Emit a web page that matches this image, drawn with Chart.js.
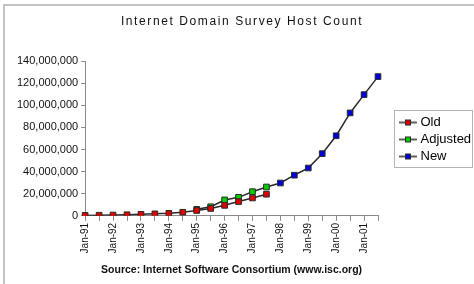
<!DOCTYPE html>
<html>
<head>
<meta charset="utf-8">
<script src="https://cdn.jsdelivr.net/npm/chart.js@4/dist/chart.umd.min.js"></script>
<style>
  html, body { margin: 0; padding: 0; background: #fff; }
  #wrap { width: 474px; height: 284px; position: relative; }
</style>
</head>
<body>
<div id="wrap"><canvas id="c" width="474" height="284"></canvas></div>
<script>
const chartTitle = 'Internet Domain Survey Host Count';
const sourceText = 'Source: Internet Software Consortium (www.isc.org)';
const periods = ['Jan-91','Jul-91','Jan-92','Jul-92','Jan-93','Jul-93','Jan-94','Jul-94',
  'Jan-95','Jul-95','Jan-96','Jul-96','Jan-97','Jul-97','Jan-98','Jul-98',
  'Jan-99','Jul-99','Jan-00','Jul-00','Jan-01','Jul-01'];
const oldHosts = [376000, 535000, 727000, 992000, 1313000, 1776000, 2217000, 3212000,
  4852000, 6642000, 9472000, 12881000, 16146000, 19540000,
  null, null, null, null, null, null, null, null];
const adjustedHosts = [null, null, null, null, null, null, null, null,
  5846000, 8200000, 14352000, 16729000, 21819000, 26053000,
  null, null, null, null, null, null, null, null];
const newHosts = [null, null, null, null, null, null, null, null,
  null, null, null, null, null, 26053000,
  29670000, 36739000, 43230000, 56218000, 72398000, 93047000, 109574000, 125888000];
const yTicks = [0, 20000000, 40000000, 60000000, 80000000, 100000000, 120000000, 140000000];

const FONT = '"Liberation Sans", Arial, sans-serif';
const LINE = '#2a2a2a';
const LEGEND_W = 96;   // width reserved for the legend column
const LEGEND_SHIFT = 20;
const LEGEND_SHIFT_Y = -29;

function legendIcon(fill) {
  const cv = document.createElement('canvas');
  cv.width = 18; cv.height = 8;
  const g = cv.getContext('2d');
  g.strokeStyle = LINE; g.lineWidth = 1.5;
  g.beginPath(); g.moveTo(0, 4); g.lineTo(18, 4); g.stroke();
  g.fillStyle = fill; g.fillRect(6, 1, 6, 6);
  g.lineWidth = 1; g.strokeStyle = LINE; g.strokeRect(6.5, 1.5, 5, 5);
  return cv;
}

const colors = { old: '#e00000', adj: '#00d000', neu: '#0000d8' };

function ds(label, data, fill, hideIdx) {
  return {
    label, data,
    borderColor: LINE, borderWidth: 1.5,
    pointStyle: 'rect',
    pointRadius: (ctx) => (hideIdx !== undefined && ctx.dataIndex === hideIdx) ? 0 : 4,
    pointBackgroundColor: fill, pointBorderColor: LINE, pointBorderWidth: 1,
    tension: 0, spanGaps: false,
    legendIcon: legendIcon(fill)
  };
}

const decor = {
  id: 'decor',
  afterInit(chart) {
    const lg = chart.legend;
    const origFit = lg.fit.bind(lg);
    lg.fit = function () { origFit(); this.width = LEGEND_W; };
    const origDraw = lg.draw.bind(lg);
    lg.draw = function () {
      const ctx = chart.ctx;
      ctx.save(); ctx.translate(LEGEND_SHIFT, LEGEND_SHIFT_Y); origDraw(); ctx.restore();
    };
  },
  beforeDraw(chart) {
    const ctx = chart.ctx;
    ctx.save();
    ctx.fillStyle = '#fff';
    ctx.fillRect(0, 0, chart.width, chart.height);
    ctx.strokeStyle = '#c4c4c4';
    ctx.lineWidth = 2;
    ctx.beginPath();
    ctx.moveTo(4, chart.height); ctx.lineTo(4, 5); ctx.lineTo(chart.width, 5);
    ctx.stroke();
    ctx.restore();
  },
  afterDraw(chart) {
    const ctx = chart.ctx;
    ctx.save();
    ctx.font = '12px ' + FONT;
    ctx.fillStyle = '#111';
    ctx.letterSpacing = '1.6px';
    ctx.textAlign = 'center';
    ctx.textBaseline = 'middle';
    ctx.fillText(chartTitle, 242, 22);
    ctx.restore();
    const hb = chart.legend.legendHitBoxes;
    if (hb && hb.length) {
      const first = hb[0], last = hb[hb.length - 1];
      const x0 = Math.round(first.left + LEGEND_SHIFT - 8) + 0.5;
      const y0 = Math.round(first.top + LEGEND_SHIFT_Y - 6) + 0.5;
      const x1 = 472.5;
      const y1 = Math.round(last.top + last.height + LEGEND_SHIFT_Y + 4) + 0.5;
      ctx.save();
      ctx.strokeStyle = '#b4b4b4';
      ctx.lineWidth = 1;
      ctx.strokeRect(x0, y0, x1 - x0, y1 - y0);
      ctx.restore();
    }
  }
};

new Chart(document.getElementById('c'), {
  type: 'line',
  data: {
    labels: periods,
    datasets: [
      ds('Old', oldHosts, colors.old),
      ds('Adjusted', adjustedHosts, colors.adj),
      ds('New', newHosts, colors.neu, 13)
    ]
  },
  options: {
    responsive: false,
    animation: false,
    devicePixelRatio: 1,
    layout: { padding: { top: 61, left: 14, right: 0, bottom: 8 } },
    plugins: {
      title: { display: false },
      tooltip: { enabled: false },
      legend: {
        position: 'right',
        align: 'center',
        labels: {
          font: { family: FONT, size: 13 },
          color: '#111',
          usePointStyle: true,
          pointStyleWidth: 12,
          boxHeight: 8,
          padding: 4,
          generateLabels(chart) {
            return chart.data.datasets.map((d, i) => ({
              text: d.label,
              pointStyle: d.legendIcon,
              fillStyle: '#fff', strokeStyle: '#fff', lineWidth: 0,
              hidden: false, datasetIndex: i
            }));
          }
        }
      }
    },
    scales: {
      x: {
        type: 'category',
        offset: false,
        grid: { drawOnChartArea: false, tickLength: 5, color: '#8a8a8a' },
        border: { color: '#8a8a8a', width: 1 },
        ticks: {
          autoSkip: false, maxRotation: 90, minRotation: 90, padding: 2,
          font: { family: FONT, size: 10 }, color: '#111',
          callback: (v, i) => periods[i].startsWith('Jan') ? periods[i] : ''
        },
        title: {
          display: true, text: sourceText,
          font: { family: FONT, size: 10.5, weight: 'bold' }, color: '#111',
          padding: { top: 8, bottom: 0 }
        }
      },
      y: {
        min: 0, max: 140000000,
        afterBuildTicks: (axis) => { axis.ticks = yTicks.map(v => ({ value: v })); },
        grid: { drawOnChartArea: false, tickLength: 4, color: '#8a8a8a' },
        border: { color: '#8a8a8a', width: 1 },
        ticks: {
          padding: 3,
          font: { family: FONT, size: 11 }, color: '#111',
          callback: (v) => Number(v).toLocaleString('en-US')
        }
      }
    }
  },
  plugins: [decor]
});
</script>
</body>
</html>
